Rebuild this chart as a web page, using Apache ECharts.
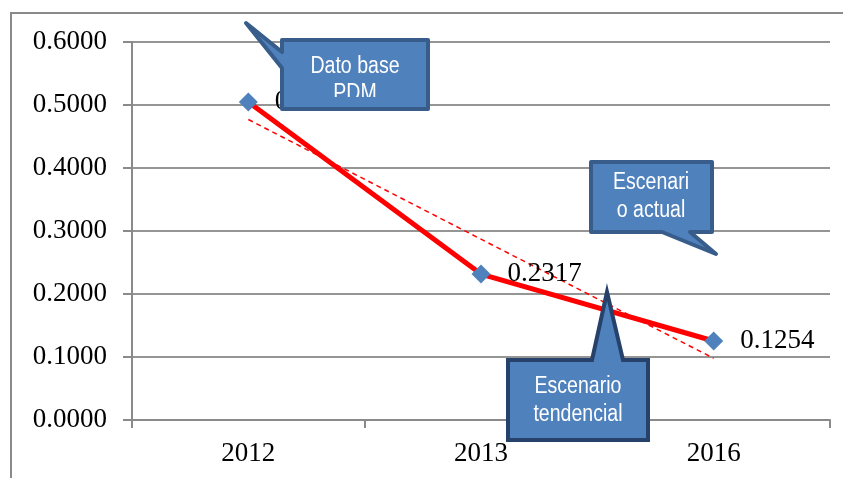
<!DOCTYPE html>
<html>
<head>
    <meta charset="UTF-8">
    <title>Escenarios</title>
    <script src="https://cdn.jsdelivr.net/npm/echarts@6/dist/echarts.min.js"></script>
    <style>
        html, body { margin: 0; padding: 0; background: #fff; }
        #chart { width: 843px; height: 478px; }
    </style>
</head>
<body>
    <div id="chart"></div>
    <script>
        // data
        var years = ['2012', '2013', '2016'];
        var values = [0.5047, 0.2317, 0.1254];
        var trend = [0.477, 0.287, 0.098];
        var yTicks = [0, 0.1, 0.2, 0.3, 0.4, 0.5, 0.6];

        var chart = echarts.init(document.getElementById('chart'), null, {renderer: 'canvas'});

        var serif = '"Liberation Serif", "DejaVu Serif", serif';
        var fill = '#4F81BD';

        function boxText(x, y, txt, z) {
            return {
                type: 'text', x: x, y: y, scaleX: 0.85, z: z,
                style: {
                    x: 0, y: 0, text: txt, fill: '#fff',
                    font: '23px "Liberation Sans", Arial, sans-serif',
                    textAlign: 'center', textVerticalAlign: 'middle', lineHeight: 28
                }
            };
        }

        var option = {
            animation: false,
            grid: {left: 132, right: 13, top: 42, bottom: 58},
            xAxis: {
                type: 'category',
                data: years,
                boundaryGap: true,
                axisLine: {lineStyle: {color: '#8a8a8a', width: 2}},
                axisTick: {show: true, length: 8, lineStyle: {color: '#8a8a8a', width: 2}},
                axisLabel: {margin: 20, color: '#000', fontFamily: serif, fontSize: 27}
            },
            yAxis: {
                type: 'value',
                min: yTicks[0],
                max: yTicks[yTicks.length - 1],
                interval: 0.1,
                axisLine: {show: true, lineStyle: {color: '#8a8a8a', width: 2}},
                axisTick: {show: true, length: 9, lineStyle: {color: '#8a8a8a', width: 2}},
                splitLine: {lineStyle: {color: '#959595', width: 2}},
                axisLabel: {
                    margin: 25, color: '#000', fontFamily: serif, fontSize: 27,
                    formatter: function (v) { return v.toFixed(4); }
                }
            },
            series: [
                {
                    type: 'line',
                    data: trend,
                    symbol: 'none',
                    z: 1,
                    lineStyle: {color: '#FF0000', width: 1.5, type: [5, 4]}
                },
                {
                    type: 'line',
                    data: values,
                    symbol: 'diamond',
                    symbolSize: 19,
                    z: 3,
                    itemStyle: {color: fill},
                    lineStyle: {color: '#FF0000', width: 5},
                    label: {
                        show: true, position: 'right', distance: 17,
                        color: '#000', fontFamily: serif, fontSize: 27,
                        formatter: function (p) { return p.value.toFixed(4); }
                    }
                }
            ],
            graphic: [
                {
                    type: 'rect', z: 50, silent: true,
                    shape: {x: 11, y: 13, width: 900, height: 600},
                    style: {fill: 'none', stroke: '#8a8a8a', lineWidth: 2}
                },
                {
                    type: 'polygon', z: 100,
                    shape: {points: [[282, 40], [428, 40], [428, 109], [282, 109], [282, 68], [246, 23], [282, 52]]},
                    style: {fill: fill, stroke: '#385D8A', lineWidth: 4, lineJoin: 'round'}
                },
                boxText(355, 67, 'Dato base', 101),
                boxText(355, 94, 'PDM', 101),
                {
                    type: 'rect', z: 102,
                    shape: {x: 284, y: 97, width: 142, height: 10},
                    style: {fill: fill}
                },
                {
                    type: 'polygon', z: 100,
                    shape: {points: [[591, 162], [712, 162], [712, 232], [690, 232], [716, 254], [662, 232], [591, 232]]},
                    style: {fill: fill, stroke: '#385D8A', lineWidth: 4, lineJoin: 'round'}
                },
                boxText(651, 197, 'Escenari\no actual', 101),
                {
                    type: 'polygon', z: 100,
                    shape: {points: [[508, 360], [592, 360], [607, 292], [623, 360], [648, 360], [648, 440], [508, 440]]},
                    style: {fill: fill, stroke: '#26426A', lineWidth: 4, lineJoin: 'miter'}
                },
                boxText(578, 401, 'Escenario\ntendencial', 101)
            ]
        };

        chart.setOption(option);
    </script>
</body>
</html>
